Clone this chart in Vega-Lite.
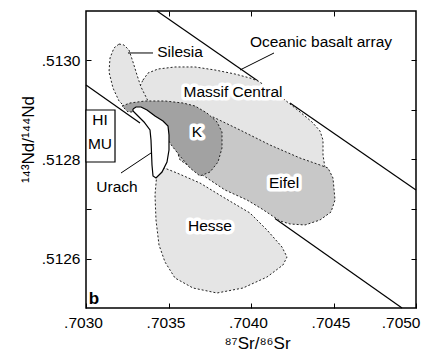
{
  "$schema": "https://vega.github.io/schema/vega-lite/v6.json",
  "width": 330,
  "height": 297,
  "autosize": {"type": "none"},
  "padding": {"left": 86, "top": 11, "right": 9, "bottom": 46},
  "background": "white",
  "config": {
    "view": {"stroke": "black", "strokeWidth": 1.5},
    "font": "Liberation Sans",
    "axis": {"grid": false, "domain": false, "tickSize": -5, "tickColor": "black", "tickWidth": 1, "labelColor": "black", "titleColor": "black", "labelFont": "Liberation Sans", "titleFont": "Liberation Sans", "labelFontSize": 15.5, "titleFontSize": 17, "titleFontWeight": "normal", "labelFlush": false}
  },
  "datasets": {
    "lines": [
      {"seg": "upper1", "kind": "array", "i": 0, "sr": 0.7034303, "nd": 0.5131},
      {"seg": "upper1", "kind": "array", "i": 1, "sr": 0.7040424, "nd": 0.5129586},
      {"seg": "upper2", "kind": "array", "i": 0, "sr": 0.7042364, "nd": 0.5129141},
      {"seg": "upper2", "kind": "array", "i": 1, "sr": 0.705, "nd": 0.5127384},
      {"seg": "lower1", "kind": "array", "i": 0, "sr": 0.703, "nd": 0.5129505},
      {"seg": "lower1", "kind": "array", "i": 1, "sr": 0.7033273, "nd": 0.5128737},
      {"seg": "lower2", "kind": "array", "i": 0, "sr": 0.7041455, "nd": 0.512681},
      {"seg": "lower2", "kind": "array", "i": 1, "sr": 0.7049152, "nd": 0.5125},
      {"seg": "Silesia", "kind": "leader", "i": 0, "sr": 0.7032545, "nd": 0.5130152},
      {"seg": "Silesia", "kind": "leader", "i": 1, "sr": 0.7034061, "nd": 0.5130152},
      {"seg": "Oceanic", "kind": "leader", "i": 0, "sr": 0.7039333, "nd": 0.5129808},
      {"seg": "Oceanic", "kind": "leader", "i": 1, "sr": 0.7041394, "nd": 0.5130152},
      {"seg": "Urach", "kind": "leader", "i": 0, "sr": 0.7032121, "nd": 0.5127727},
      {"seg": "Urach", "kind": "leader", "i": 1, "sr": 0.7033939, "nd": 0.5128131}
    ],
    "regions": [
      {"r": "MC", "i": 0, "sr": 0.7033455, "nd": 0.5129606},
      {"r": "MC", "i": 1, "sr": 0.7033758, "nd": 0.5129747},
      {"r": "MC", "i": 2, "sr": 0.7034364, "nd": 0.5129828},
      {"r": "MC", "i": 3, "sr": 0.7035394, "nd": 0.5129869},
      {"r": "MC", "i": 4, "sr": 0.7036606, "nd": 0.5129869},
      {"r": "MC", "i": 5, "sr": 0.7037818, "nd": 0.5129808},
      {"r": "MC", "i": 6, "sr": 0.703903, "nd": 0.5129727},
      {"r": "MC", "i": 7, "sr": 0.7039939, "nd": 0.5129646},
      {"r": "MC", "i": 8, "sr": 0.7040424, "nd": 0.5129586},
      {"r": "MC", "i": 9, "sr": 0.7041455, "nd": 0.5129364},
      {"r": "MC", "i": 10, "sr": 0.7042364, "nd": 0.5129121},
      {"r": "MC", "i": 11, "sr": 0.704297, "nd": 0.512896},
      {"r": "MC", "i": 12, "sr": 0.7043697, "nd": 0.5128758},
      {"r": "MC", "i": 13, "sr": 0.7044182, "nd": 0.5128576},
      {"r": "MC", "i": 14, "sr": 0.7044364, "nd": 0.5128394},
      {"r": "MC", "i": 15, "sr": 0.7044364, "nd": 0.5128091},
      {"r": "MC", "i": 16, "sr": 0.7044485, "nd": 0.5127828},
      {"r": "MC", "i": 17, "sr": 0.704297, "nd": 0.5127889},
      {"r": "MC", "i": 18, "sr": 0.7039939, "nd": 0.5128192},
      {"r": "MC", "i": 19, "sr": 0.7036909, "nd": 0.5128596},
      {"r": "MC", "i": 20, "sr": 0.7034485, "nd": 0.512896},
      {"r": "MC", "i": 21, "sr": 0.7033273, "nd": 0.5129202},
      {"r": "MC", "i": 22, "sr": 0.7033152, "nd": 0.5129404},
      {"r": "MC", "i": 23, "sr": 0.7033455, "nd": 0.5129606},

      {"r": "Silesia", "i": 0, "sr": 0.7032, "nd": 0.5130333},
      {"r": "Silesia", "i": 1, "sr": 0.7032303, "nd": 0.5130313},
      {"r": "Silesia", "i": 2, "sr": 0.7032606, "nd": 0.5130212},
      {"r": "Silesia", "i": 3, "sr": 0.7032848, "nd": 0.512997},
      {"r": "Silesia", "i": 4, "sr": 0.7033091, "nd": 0.5129707},
      {"r": "Silesia", "i": 5, "sr": 0.7033333, "nd": 0.5129465},
      {"r": "Silesia", "i": 6, "sr": 0.7033636, "nd": 0.5129263},
      {"r": "Silesia", "i": 7, "sr": 0.7033879, "nd": 0.5129101},
      {"r": "Silesia", "i": 8, "sr": 0.7033273, "nd": 0.512896},
      {"r": "Silesia", "i": 9, "sr": 0.7032545, "nd": 0.5129},
      {"r": "Silesia", "i": 10, "sr": 0.7032, "nd": 0.5129182},
      {"r": "Silesia", "i": 11, "sr": 0.7031636, "nd": 0.5129444},
      {"r": "Silesia", "i": 12, "sr": 0.7031394, "nd": 0.5129768},
      {"r": "Silesia", "i": 13, "sr": 0.7031455, "nd": 0.5130051},
      {"r": "Silesia", "i": 14, "sr": 0.7031697, "nd": 0.5130253},
      {"r": "Silesia", "i": 15, "sr": 0.7032, "nd": 0.5130333},

      {"r": "Hesse", "i": 0, "sr": 0.7034303, "nd": 0.5127747},
      {"r": "Hesse", "i": 1, "sr": 0.7034606, "nd": 0.5127848},
      {"r": "Hesse", "i": 2, "sr": 0.7035515, "nd": 0.5127727},
      {"r": "Hesse", "i": 3, "sr": 0.7036909, "nd": 0.5127525},
      {"r": "Hesse", "i": 4, "sr": 0.7038303, "nd": 0.5127242},
      {"r": "Hesse", "i": 5, "sr": 0.7039939, "nd": 0.5126919},
      {"r": "Hesse", "i": 6, "sr": 0.704097, "nd": 0.5126576},
      {"r": "Hesse", "i": 7, "sr": 0.7041879, "nd": 0.5126232},
      {"r": "Hesse", "i": 8, "sr": 0.7042182, "nd": 0.512603},
      {"r": "Hesse", "i": 9, "sr": 0.7041939, "nd": 0.5125869},
      {"r": "Hesse", "i": 10, "sr": 0.704097, "nd": 0.5125626},
      {"r": "Hesse", "i": 11, "sr": 0.7039515, "nd": 0.5125404},
      {"r": "Hesse", "i": 12, "sr": 0.7037939, "nd": 0.5125303},
      {"r": "Hesse", "i": 13, "sr": 0.7036485, "nd": 0.5125404},
      {"r": "Hesse", "i": 14, "sr": 0.7035394, "nd": 0.5125606},
      {"r": "Hesse", "i": 15, "sr": 0.7034788, "nd": 0.5125929},
      {"r": "Hesse", "i": 16, "sr": 0.7034424, "nd": 0.5126273},
      {"r": "Hesse", "i": 17, "sr": 0.7034242, "nd": 0.5126778},
      {"r": "Hesse", "i": 18, "sr": 0.7034182, "nd": 0.5127283},
      {"r": "Hesse", "i": 19, "sr": 0.7034303, "nd": 0.5127747},

      {"r": "Eifel", "i": 0, "sr": 0.7035394, "nd": 0.5128293},
      {"r": "Eifel", "i": 1, "sr": 0.7036303, "nd": 0.5128798},
      {"r": "Eifel", "i": 2, "sr": 0.7037697, "nd": 0.5128859},
      {"r": "Eifel", "i": 3, "sr": 0.7039333, "nd": 0.5128596},
      {"r": "Eifel", "i": 4, "sr": 0.7041152, "nd": 0.5128293},
      {"r": "Eifel", "i": 5, "sr": 0.704297, "nd": 0.512803},
      {"r": "Eifel", "i": 6, "sr": 0.7044182, "nd": 0.5127889},
      {"r": "Eifel", "i": 7, "sr": 0.7044667, "nd": 0.5127828},
      {"r": "Eifel", "i": 8, "sr": 0.704497, "nd": 0.5127626},
      {"r": "Eifel", "i": 9, "sr": 0.7045091, "nd": 0.5127182},
      {"r": "Eifel", "i": 10, "sr": 0.7044848, "nd": 0.5126939},
      {"r": "Eifel", "i": 11, "sr": 0.7044182, "nd": 0.5126778},
      {"r": "Eifel", "i": 12, "sr": 0.7043273, "nd": 0.5126677},
      {"r": "Eifel", "i": 13, "sr": 0.7042364, "nd": 0.5126697},
      {"r": "Eifel", "i": 14, "sr": 0.7041758, "nd": 0.5126758},
      {"r": "Eifel", "i": 15, "sr": 0.7040667, "nd": 0.5127},
      {"r": "Eifel", "i": 16, "sr": 0.7039758, "nd": 0.5127182},
      {"r": "Eifel", "i": 17, "sr": 0.7038424, "nd": 0.5127384},
      {"r": "Eifel", "i": 18, "sr": 0.7037697, "nd": 0.5127545},
      {"r": "Eifel", "i": 19, "sr": 0.7036606, "nd": 0.5127788},
      {"r": "Eifel", "i": 20, "sr": 0.7035697, "nd": 0.512799},
      {"r": "Eifel", "i": 21, "sr": 0.7035394, "nd": 0.5128293},

      {"r": "K", "i": 0, "sr": 0.7032182, "nd": 0.5129081},
      {"r": "K", "i": 1, "sr": 0.7032667, "nd": 0.5129141},
      {"r": "K", "i": 2, "sr": 0.7033576, "nd": 0.5129182},
      {"r": "K", "i": 3, "sr": 0.7034788, "nd": 0.5129182},
      {"r": "K", "i": 4, "sr": 0.7035879, "nd": 0.5129141},
      {"r": "K", "i": 5, "sr": 0.7036606, "nd": 0.5129081},
      {"r": "K", "i": 6, "sr": 0.7037333, "nd": 0.5128939},
      {"r": "K", "i": 7, "sr": 0.7037939, "nd": 0.5128758},
      {"r": "K", "i": 8, "sr": 0.7038242, "nd": 0.5128556},
      {"r": "K", "i": 9, "sr": 0.7038242, "nd": 0.5128232},
      {"r": "K", "i": 10, "sr": 0.7038, "nd": 0.5127949},
      {"r": "K", "i": 11, "sr": 0.7037515, "nd": 0.5127747},
      {"r": "K", "i": 12, "sr": 0.7036909, "nd": 0.5127667},
      {"r": "K", "i": 13, "sr": 0.7036303, "nd": 0.5127828},
      {"r": "K", "i": 14, "sr": 0.7035697, "nd": 0.5128071},
      {"r": "K", "i": 15, "sr": 0.7035212, "nd": 0.5128273},
      {"r": "K", "i": 16, "sr": 0.703497, "nd": 0.5128394},
      {"r": "K", "i": 17, "sr": 0.7034485, "nd": 0.5128697},
      {"r": "K", "i": 18, "sr": 0.7033273, "nd": 0.512896},
      {"r": "K", "i": 19, "sr": 0.7032545, "nd": 0.512896},
      {"r": "K", "i": 20, "sr": 0.7032182, "nd": 0.5129081},

      {"r": "Urach", "i": 0, "sr": 0.7032848, "nd": 0.512902},
      {"r": "Urach", "i": 1, "sr": 0.703303, "nd": 0.5129061},
      {"r": "Urach", "i": 2, "sr": 0.7033333, "nd": 0.5129061},
      {"r": "Urach", "i": 3, "sr": 0.7033697, "nd": 0.5129},
      {"r": "Urach", "i": 4, "sr": 0.7034182, "nd": 0.5128879},
      {"r": "Urach", "i": 5, "sr": 0.7034667, "nd": 0.5128778},
      {"r": "Urach", "i": 6, "sr": 0.703497, "nd": 0.5128677},
      {"r": "Urach", "i": 7, "sr": 0.703503, "nd": 0.5128495},
      {"r": "Urach", "i": 8, "sr": 0.703503, "nd": 0.5128192},
      {"r": "Urach", "i": 9, "sr": 0.7034909, "nd": 0.5127949},
      {"r": "Urach", "i": 10, "sr": 0.7034606, "nd": 0.5127747},
      {"r": "Urach", "i": 11, "sr": 0.7034242, "nd": 0.5127626},
      {"r": "Urach", "i": 12, "sr": 0.7034061, "nd": 0.5127667},
      {"r": "Urach", "i": 13, "sr": 0.7034, "nd": 0.5127889},
      {"r": "Urach", "i": 14, "sr": 0.7033939, "nd": 0.5128394},
      {"r": "Urach", "i": 15, "sr": 0.7033879, "nd": 0.5128596},
      {"r": "Urach", "i": 16, "sr": 0.7033515, "nd": 0.5128758},
      {"r": "Urach", "i": 17, "sr": 0.7033091, "nd": 0.5128899},
      {"r": "Urach", "i": 18, "sr": 0.7032848, "nd": 0.512898},
      {"r": "Urach", "i": 19, "sr": 0.7032848, "nd": 0.512902}
    ],
    "boxes": [
      {"box": "HIMU", "sr": 0.703, "sr2": 0.7031758, "nd": 0.5129, "nd2": 0.5127949}
    ],
    "labels": [
      {"label": "Oceanic basalt array", "sr": 0.7044242, "nd": 0.5130374},
      {"label": "Silesia", "sr": 0.7035697, "nd": 0.5130172},
      {"label": "Massif Central", "sr": 0.7038909, "nd": 0.5129364},
      {"label": "K", "sr": 0.7036727, "nd": 0.5128556},
      {"label": "Eifel", "sr": 0.7042, "nd": 0.5127525},
      {"label": "Hesse", "sr": 0.7037515, "nd": 0.5126657},
      {"label": "Urach", "sr": 0.7031879, "nd": 0.5127444},
      {"label": "HI", "sr": 0.7030848, "nd": 0.5128798},
      {"label": "MU", "sr": 0.7030848, "nd": 0.5128313},
      {"label": "b", "sr": 0.7030485, "nd": 0.5125182}
    ]
  },
  "layer": [
    {
      "data": {"name": "lines"},
      "transform": [{"filter": "datum.kind == 'array'"}],
      "mark": {"type": "line", "stroke": "black", "strokeWidth": 1.2},
      "encoding": {
        "x": {"field": "sr", "type": "quantitative", "scale": {"domain": [0.703, 0.705], "nice": false, "zero": false},
          "axis": {"orient": "bottom", "values": [0.703, 0.7035, 0.704, 0.7045, 0.705],
            "labelExpr": "replace(format(datum.value, '.4f'), '0.', '.')",
            "labelPadding": 12,
            "labelAlign": {"condition": {"test": "datum.value > 0.70499", "value": "right"}, "value": "center"},
            "labelOffset": {"condition": {"test": "datum.value > 0.70499", "value": 4}, "value": -3},
            "title": "⁸⁷Sr/⁸⁶Sr", "titleX": 171, "titleY": 35, "titleAlign": "center", "titleBaseline": "middle", "titleAnchor": null}},
        "y": {"field": "nd", "type": "quantitative", "scale": {"domain": [0.5125, 0.5131], "nice": false, "zero": false},
          "axis": {"orient": "left", "values": [0.5126, 0.5127, 0.5128, 0.5129, 0.513],
            "labelExpr": "round(datum.value * 10000) % 2 == 0 ? replace(format(datum.value, '.4f'), '0.', '.') : ''",
            "labelPadding": 11,
            "title": "¹⁴³Nd/¹⁴⁴Nd", "titleX": -58, "titleY": 128, "titleAngle": 270, "titleAlign": "center", "titleBaseline": "middle", "titleAnchor": null}},
        "detail": {"field": "seg"},
        "order": {"field": "i", "type": "quantitative"}
      }
    },
    {
      "data": {"name": "regions"},
      "transform": [{"filter": "datum.r == 'MC'"}],
      "mark": {"type": "line", "fill": "#e5e5e5", "stroke": "#222", "strokeWidth": 1, "strokeDash": [2, 2]},
      "encoding": {
        "x": {"field": "sr", "type": "quantitative", "axis": {"orient": "top", "values": [0.7035, 0.704, 0.7045], "labels": false, "title": null}},
        "y": {"field": "nd", "type": "quantitative", "axis": {"orient": "right", "values": [0.5126, 0.5127, 0.5128, 0.5129, 0.513], "labels": false, "title": null}},
        "order": {"field": "i", "type": "quantitative"}
      }
    },
    {
      "data": {"name": "regions"},
      "transform": [{"filter": "datum.r == 'Silesia'"}],
      "mark": {"type": "line", "fill": "#e5e5e5", "stroke": "#222", "strokeWidth": 1, "strokeDash": [2, 2]},
      "encoding": {
        "x": {"field": "sr", "type": "quantitative", "axis": null},
        "y": {"field": "nd", "type": "quantitative", "axis": null},
        "order": {"field": "i", "type": "quantitative"}
      }
    },
    {
      "data": {"name": "regions"},
      "transform": [{"filter": "datum.r == 'Hesse'"}],
      "mark": {"type": "line", "fill": "#e5e5e5", "stroke": "#222", "strokeWidth": 1, "strokeDash": [2, 2]},
      "encoding": {
        "x": {"field": "sr", "type": "quantitative", "axis": null},
        "y": {"field": "nd", "type": "quantitative", "axis": null},
        "order": {"field": "i", "type": "quantitative"}
      }
    },
    {
      "data": {"name": "regions"},
      "transform": [{"filter": "datum.r == 'Eifel'"}],
      "mark": {"type": "line", "fill": "#c8c8c8", "stroke": "#222", "strokeWidth": 1, "strokeDash": [2, 2]},
      "encoding": {
        "x": {"field": "sr", "type": "quantitative", "axis": null},
        "y": {"field": "nd", "type": "quantitative", "axis": null},
        "order": {"field": "i", "type": "quantitative"}
      }
    },
    {
      "data": {"name": "regions"},
      "transform": [{"filter": "datum.r == 'K'"}],
      "mark": {"type": "line", "fill": "#a2a2a2", "stroke": "#222", "strokeWidth": 1, "strokeDash": [2, 2]},
      "encoding": {
        "x": {"field": "sr", "type": "quantitative", "axis": null},
        "y": {"field": "nd", "type": "quantitative", "axis": null},
        "order": {"field": "i", "type": "quantitative"}
      }
    },
    {
      "data": {"name": "regions"},
      "transform": [{"filter": "datum.r == 'Urach'"}],
      "mark": {"type": "line", "fill": "white", "stroke": "black", "strokeWidth": 1.2},
      "encoding": {
        "x": {"field": "sr", "type": "quantitative", "axis": null},
        "y": {"field": "nd", "type": "quantitative", "axis": null},
        "order": {"field": "i", "type": "quantitative"}
      }
    },
    {
      "data": {"name": "boxes"},
      "mark": {"type": "rect", "fill": "white", "stroke": "black", "strokeWidth": 1.2},
      "encoding": {
        "x": {"field": "sr", "type": "quantitative", "axis": null},
        "x2": {"field": "sr2"},
        "y": {"field": "nd", "type": "quantitative", "axis": null},
        "y2": {"field": "nd2"}
      }
    },
    {
      "data": {"name": "lines"},
      "transform": [{"filter": "datum.kind == 'leader'"}],
      "mark": {"type": "line", "stroke": "black", "strokeWidth": 1},
      "encoding": {
        "x": {"field": "sr", "type": "quantitative", "axis": null},
        "y": {"field": "nd", "type": "quantitative", "axis": null},
        "detail": {"field": "seg"},
        "order": {"field": "i", "type": "quantitative"}
      }
    },
    {
      "data": {"name": "labels"},
      "transform": [{"filter": "indexof(['Massif Central', 'K', 'Eifel', 'Hesse'], datum.label) >= 0"}],
      "mark": {"type": "text", "font": "Liberation Sans", "fontSize": 15.5, "align": "center", "baseline": "middle", "stroke": "white", "strokeWidth": 7, "strokeJoin": "round", "fill": "white"},
      "encoding": {
        "x": {"field": "sr", "type": "quantitative", "axis": null},
        "y": {"field": "nd", "type": "quantitative", "axis": null},
        "text": {"field": "label"}
      }
    },
    {
      "data": {"name": "labels"},
      "transform": [{"filter": "datum.label != 'b'"}],
      "mark": {"type": "text", "font": "Liberation Sans", "fontSize": 15.5, "align": "center", "baseline": "middle", "color": "black"},
      "encoding": {
        "x": {"field": "sr", "type": "quantitative", "axis": null},
        "y": {"field": "nd", "type": "quantitative", "axis": null},
        "text": {"field": "label"}
      }
    },
    {
      "data": {"name": "labels"},
      "transform": [{"filter": "datum.label == 'b'"}],
      "mark": {"type": "text", "font": "Liberation Sans", "fontSize": 17, "fontWeight": "bold", "align": "center", "baseline": "middle", "color": "black"},
      "encoding": {
        "x": {"field": "sr", "type": "quantitative", "axis": null},
        "y": {"field": "nd", "type": "quantitative", "axis": null},
        "text": {"field": "label"}
      }
    }
  ]
}
